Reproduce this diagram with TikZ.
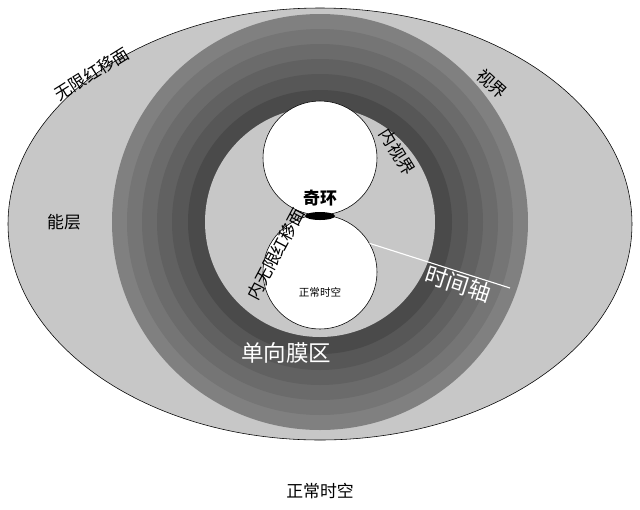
\documentclass[tikz,border=0pt]{standalone}
\usepackage{fontspec}
\setmainfont{Noto Sans CJK SC}
\usetikzlibrary{shapes.geometric}
\begin{document}
\begin{tikzpicture}[x=0.025cm,y=-0.025cm,
    lbl/.style={font=\fontsize{12}{13}\selectfont, inner sep=1pt},
    biglbl/.style={font=\fontsize{16}{17}\selectfont, text=white},
    hole/.style={draw, fill=white}
]
    \useasboundingbox (0,0) rectangle (640,509);
    % outer ergosphere
    \draw[fill=black!22] (320,224) ellipse [x radius=312, y radius=216];
    % one-way membrane rings
    \foreach \r/\c in {208/50, 193/54, 178/58, 163/62, 148/66, 132/71}
        \fill[black!\c] (320,222) circle [radius=\r];
    \fill[black!22] (320,222) circle [radius=115];
    % white holes
    \node[hole, circle, minimum size=114*0.025cm] (top) at (320,158) {};
    \node[hole, circle, minimum size=114*0.025cm] (bottom) at (320,272) {};
    \node[fill=black, ellipse, inner sep=0pt, minimum width=0.75cm, minimum height=0.2cm] (ring) at (320,216) {};
    \coordinate (axis) at (510,288);
    \draw[white, thick] (bottom.30) -- (axis);
    % labels
    \node[lbl, rotate=32] (infred) at (92,74) {无限红移面};
    \node[lbl, rotate=-42] (horizon) at (492,84) {视界};
    \node[lbl] (ergo) at (64,222) {能层};
    \node[lbl, rotate=-58] (inhorizon) at (397,152) {内视界};
    \node[lbl, font=\bfseries\fontsize{12}{13}\selectfont] (ringlbl) at (320,198) {奇环};
    \node[lbl, rotate=62] (ininfred) at (276,254) {内无限红移面};
    \node[font=\fontsize{7.5}{8}\selectfont] (normal) at (320,292) {正常时空};
    \node[biglbl, rotate=-18] (timeaxis) at (458,284) {时间轴};
    \node[biglbl] (membrane) at (286,353) {单向膜区};
    \node[lbl] (outside) at (320,491) {正常时空};
\end{tikzpicture}
\end{document}
